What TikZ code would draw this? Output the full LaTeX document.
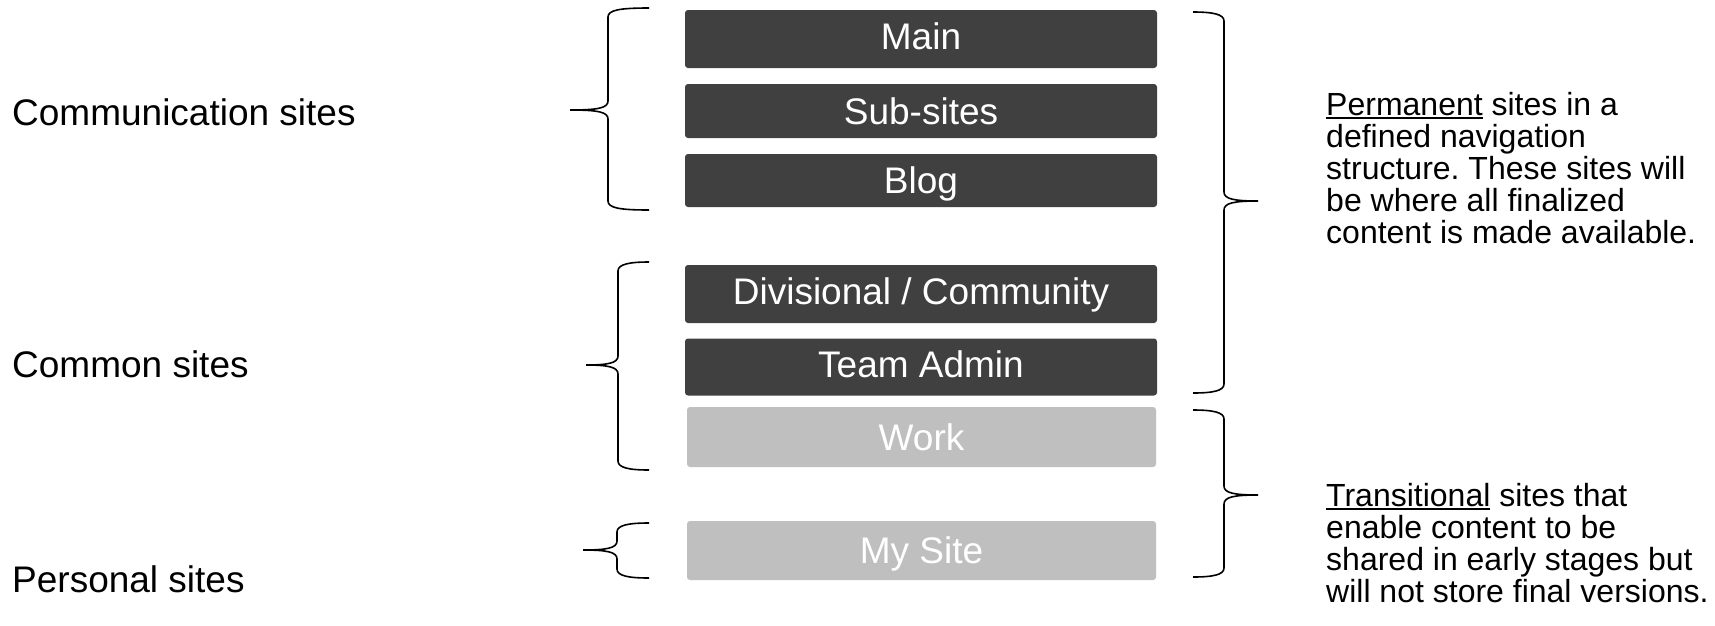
\documentclass[tikz,border=0pt]{standalone}
\usepackage{fontspec}
\setmainfont{Liberation Sans}
\frenchspacing
\newcommand\ulined[1]{\setbox0\hbox{#1}\rlap{\rule[-3.5pt]{\wd0}{2pt}}\box0\relax}
\definecolor{darkbox}{HTML}{404040}
\definecolor{lightbox}{HTML}{BFBFBF}
\newcommand\leftbrc[6]{% end, spine, tip, top, mid, bottom
  \draw[brc] (#1,#4) .. controls ({#2+12},#4) and (#2,{#4+2}) .. (#2,{#4+9})
    -- (#2,{#5-9}) .. controls (#2,{#5-2}) and ({#2-10},#5) .. (#3,#5)
    .. controls ({#2-10},#5) and (#2,{#5+2}) .. (#2,{#5+9})
    -- (#2,{#6-9}) .. controls (#2,{#6-2}) and ({#2+12},#6) .. (#1,#6);}
\newcommand\rightbrc[6]{% end, spine, tip, top, mid, bottom
  \draw[brc] (#1,#4) .. controls ({#2-12},#4) and (#2,{#4+2}) .. (#2,{#4+9})
    -- (#2,{#5-9}) .. controls (#2,{#5-2}) and ({#2+10},#5) .. (#3,#5)
    .. controls ({#2+10},#5) and (#2,{#5+2}) .. (#2,{#5+9})
    -- (#2,{#6-9}) .. controls (#2,{#6-2}) and ({#2-12},#6) .. (#1,#6);}
\tikzset{
  boxbase/.style={rectangle, rounded corners=3pt, inner sep=0pt, text=white,
    font=\fontsize{37}{40}\selectfont, text height=26.5pt, text depth=0pt},
  hitext/.style={text height=23.5pt, text depth=3pt},
  darkstep/.style={boxbase, fill=darkbox, minimum width=472pt},
  lightstep/.style={boxbase, fill=lightbox, minimum width=469pt},
  brc/.style={draw=black, line width=1.6pt},
  grouplabel/.style={anchor=base west, inner sep=0pt, font=\fontsize{37}{40}\selectfont},
  note/.style={anchor=base west, inner sep=0pt, align=left,
    font=\fontsize{32}{32}\selectfont},
}
\begin{document}
\begin{tikzpicture}[x=1pt,y=-1pt]
\useasboundingbox[fill=white] (0,0) rectangle (1715,625);
% boxes
\node[darkstep, hitext, minimum height=58pt] (main) at (921,39) {Main};
\node[darkstep, minimum height=54pt] (sub) at (921,111) {Sub-sites};
\node[darkstep, minimum height=53pt] (blog) at (921,180.5) {Blog};
\node[darkstep, hitext, minimum height=58pt] (div) at (921,294) {Divisional / Community};
\node[darkstep, hitext, minimum height=57pt] (team) at (921,367) {Team Admin};
\node[lightstep, minimum height=60pt] (work) at (921.5,437) {Work};
\node[lightstep, minimum height=59pt] (mysite) at (921.5,550.5) {My Site};
% left labels
\node[grouplabel] (comm) at (12,125) {Communication sites};
\node[grouplabel] (common) at (12,377) {Common sites};
\node[grouplabel] (pers) at (12,592) {Personal sites};
% right notes (base anchor = last line's baseline)
\node[note] (perm) at (1326,243) {\ulined{Permanent} sites in a\\defined navigation\\structure. These sites will\\be where all finalized\\content is made available.};
\node[note] (trans) at (1326,602) {\ulined{Transitional} sites that\\enable content to be\\shared in early stages but\\will not store final versions.};
% braces
\leftbrc{649}{608}{570}{8}{110}{210}
\leftbrc{649}{618}{586}{262}{365}{470}
\leftbrc{649}{617}{583}{523}{550}{578}
\rightbrc{1193}{1224}{1258}{12}{201}{393}
\rightbrc{1193}{1224}{1258}{410}{495}{577}
\end{tikzpicture}
\end{document}
